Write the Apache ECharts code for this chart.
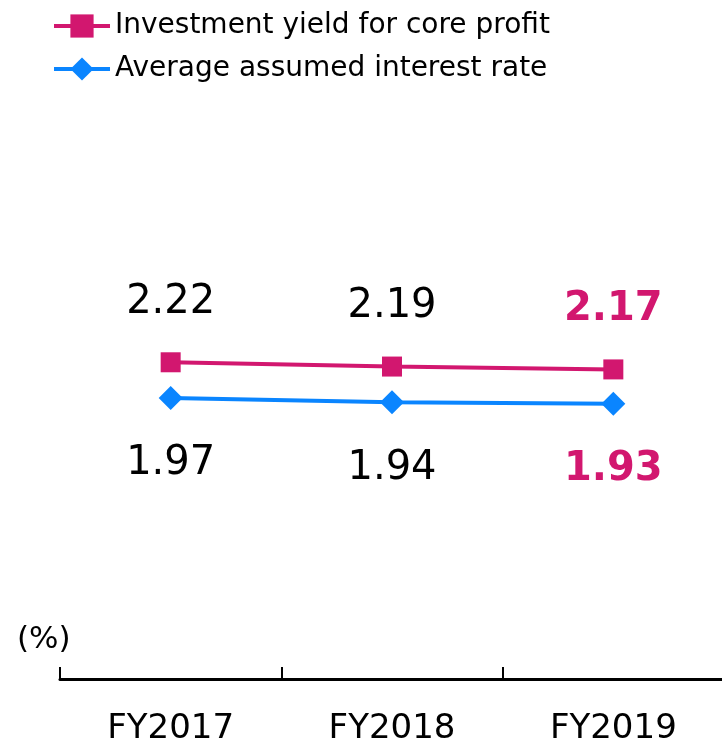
<!DOCTYPE html>
<html lang="en">

<head>
  <meta charset="UTF-8">
  <title>Investment yield</title>
  <style>
    body {
      margin: 0;
      background-color: #fff;
    }

    .chart {
      width: 722px;
      height: 742px;
    }
  </style>
</head>

<body>
  <div class="chart"></div>
  <script src="https://cdn.jsdelivr.net/npm/echarts@6/dist/echarts.min.js"></script>
  <script>
    const years = ['FY2017', 'FY2018', 'FY2019']
    const yieldValues = [2.22, 2.19, 2.17]
    const rateValues = [1.97, 1.94, 1.93]
    const seriesNames = ['Investment yield for core profit', 'Average assumed interest rate']

    const pink = '#D2176F'
    const blue = '#0A85FF'
    const font = 'DejaVu Sans'

    // last point of each series is highlighted in bold pink
    const toData = values => values.map((v, i) => ({
      value: v,
      label: i === values.length - 1
        ? { color: pink, fontWeight: 'bold' }
        : { color: '#000', fontWeight: 'normal' }
    }))

    const option = {
      animation: false,
      textStyle: { fontFamily: font },
      legend: {
        left: 47,
        top: 7,
        orient: 'vertical',
        itemWidth: 56,
        itemHeight: 29,
        itemGap: 15,
        lineStyle: { width: 4 },
        textStyle: { fontSize: 28, color: '#000', fontFamily: font },
        data: seriesNames
      },
      grid: {
        left: 60,
        right: -2,
        top: 251,
        bottom: 63,
        outerBoundsMode: 'none'
      },
      xAxis: {
        type: 'category',
        data: years,
        name: '(%)',
        nameLocation: 'start',
        nameGap: 0,
        nameTextStyle: {
          fontSize: 31,
          color: '#000',
          verticalAlign: 'bottom',
          align: 'left',
          padding: [0, 0, 24, -43]
        },
        axisLine: { lineStyle: { color: '#000', width: 3 } },
        axisTick: { show: true, inside: true, length: 12, lineStyle: { color: '#000', width: 2 } },
        axisLabel: { fontSize: 34, color: '#000', margin: 33 }
      },
      yAxis: {
        type: 'value',
        min: 0,
        max: 3,
        show: false
      },
      series: [
        {
          name: seriesNames[0],
          type: 'line',
          data: toData(yieldValues),
          color: pink,
          symbol: 'rect',
          symbolSize: 20,
          lineStyle: { width: 4, color: pink },
          label: { show: true, position: 'top', distance: 30, fontSize: 40 }
        },
        {
          name: seriesNames[1],
          type: 'line',
          data: toData(rateValues),
          color: blue,
          symbol: 'diamond',
          symbolSize: 24,
          lineStyle: { width: 4, color: blue },
          label: { show: true, position: 'bottom', distance: 34, fontSize: 40 }
        }
      ]
    }

    const myChart = echarts.init(document.querySelector('.chart'))
    myChart.setOption(option)
  </script>
</body>

</html>
